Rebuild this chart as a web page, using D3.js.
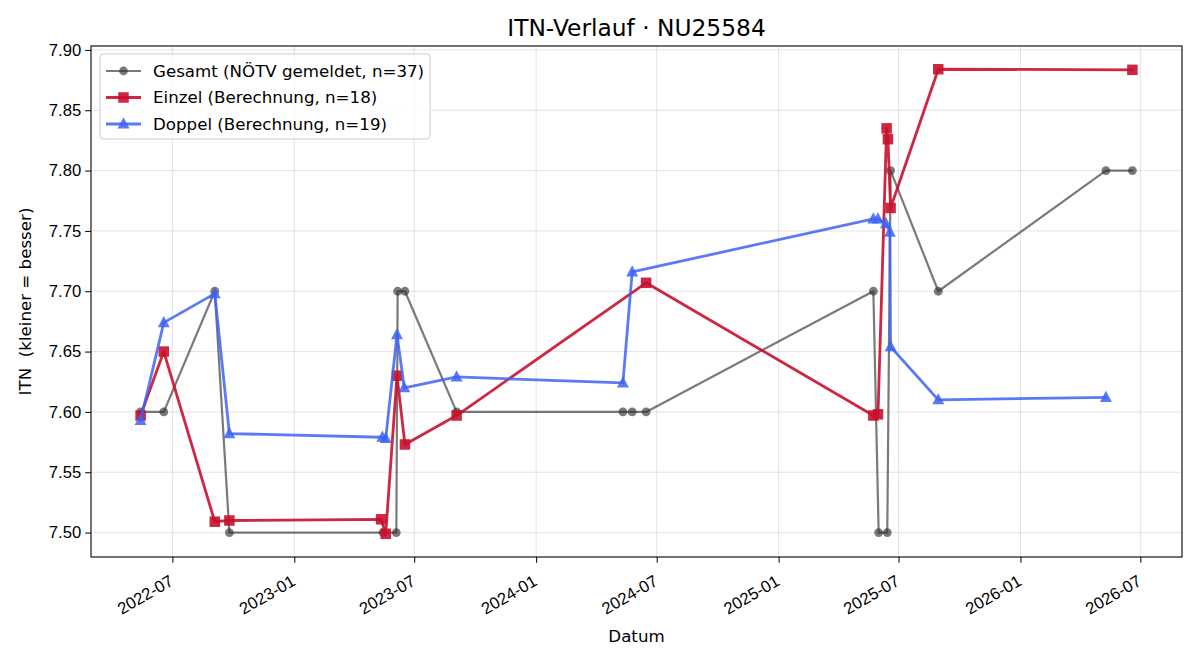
<!DOCTYPE html>
<html>
<head>
<meta charset="utf-8">
<script src="https://cdn.jsdelivr.net/npm/d3@7/dist/d3.min.js"></script>
<style>
  html, body { margin: 0; padding: 0; background: #fff; }
  svg { display: block; font-family: "DejaVu Sans", sans-serif; }
</style>
</head>
<body>
<svg id="chart" width="1200" height="660"></svg>
<script>
// ---- Data ----
const title = "ITN-Verlauf · NU25584";
const xLabel = "Datum";
const yLabel = "ITN  (kleiner = besser)";

const gesamtLabel = "Gesamt (NÖTV gemeldet, n=37)";
const gesamtDates = ["2022-05-14","2022-06-18","2022-09-03","2022-09-25","2023-05-15","2023-06-04","2023-06-06","2023-06-17","2023-09-03","2024-05-11","2024-05-25","2024-06-15","2025-05-24","2025-06-01","2025-06-14","2025-06-19","2025-08-30","2026-05-10","2026-06-19"];
const gesamtValues = [7.6,7.6,7.7,7.5,7.5,7.5,7.7,7.7,7.6,7.6,7.6,7.6,7.7,7.5,7.5,7.8,7.7,7.8,7.8];

const einzelLabel = "Einzel (Berechnung, n=18)";
const einzelDates = ["2022-05-14","2022-06-18","2022-09-03","2022-09-25","2023-05-12","2023-05-19","2023-06-05","2023-06-17","2023-09-03","2024-06-15","2025-05-24","2025-05-31","2025-06-13","2025-06-15","2025-06-19","2025-08-30","2026-06-19"];
const einzelValues = [7.597,7.650,7.509,7.510,7.511,7.499,7.630,7.573,7.597,7.707,7.597,7.598,7.835,7.826,7.769,7.884,7.8835];

const doppelLabel = "Doppel (Berechnung, n=19)";
const doppelDates = ["2022-05-14","2022-06-18","2022-09-03","2022-09-25","2023-05-14","2023-05-19","2023-06-05","2023-06-16","2023-09-03","2024-05-11","2024-05-25","2025-05-24","2025-05-31","2025-06-12","2025-06-18","2025-06-19","2025-08-30","2026-05-10"];
const doppelValues = [7.593,7.674,7.698,7.582,7.579,7.578,7.664,7.620,7.629,7.624,7.716,7.760,7.760,7.756,7.749,7.654,7.610,7.612];

const xTickLabels = ["2022-07","2023-01","2023-07","2024-01","2024-07","2025-01","2025-07","2026-01","2026-07"];
const yTickLabels = ["7.50","7.55","7.60","7.65","7.70","7.75","7.80","7.85","7.90"];

// ---- Build ----
const parse = d3.utcParse("%Y-%m-%d");
const parseMonth = d3.utcParse("%Y-%m");
function zip(dates, vals) { return dates.map((d, i) => ({ date: parse(d), value: vals[i] })); }

const FS = 16.67;      // 10pt @ 120dpi
const TFS = 23.33;     // 14pt @ 120dpi

const series = [
  { label: gesamtLabel, data: zip(gesamtDates, gesamtValues), color: "#333333", opacity: 0.65, width: 2.2, marker: "circle", size: 4.4 },
  { label: einzelLabel, data: zip(einzelDates, einzelValues), color: "#c8102e", opacity: 0.9, width: 2.8, marker: "square", size: 10.5 },
  { label: doppelLabel, data: zip(doppelDates, doppelValues), color: "#3d63f5", opacity: 0.85, width: 2.8, marker: "triangle", size: 12 }
];

const L = 91, R = 1182, T = 46, B = 557;
const svg = d3.select("#chart");

const all = series.flatMap(s => s.data);
const xExt = d3.extent(all, d => d.date);
const xPad = (xExt[1] - xExt[0]) * 0.05;
const x = d3.scaleUtc().domain([new Date(+xExt[0] - xPad), new Date(+xExt[1] + xPad)]).range([L, R]);
const yExt = d3.extent(all, d => d.value);
const yPad = (yExt[1] - yExt[0]) * 0.05;
const y = d3.scaleLinear().domain([yExt[0] - yPad, yExt[1] + yPad]).range([B, T]);

const xTicks = xTickLabels.map(s => parseMonth(s));
const yTicks = yTickLabels.map(s => +s);

// grid
const grid = svg.append("g");
grid.selectAll("line.gx").data(xTicks).enter().append("line")
  .attr("x1", d => x(d)).attr("x2", d => x(d)).attr("y1", T).attr("y2", B)
  .attr("stroke", "#b0b0b0").attr("stroke-opacity", 0.35).attr("stroke-width", 1);
grid.selectAll("line.gy").data(yTicks).enter().append("line")
  .attr("x1", L).attr("x2", R).attr("y1", d => y(d)).attr("y2", d => y(d))
  .attr("stroke", "#b0b0b0").attr("stroke-opacity", 0.35).attr("stroke-width", 1);

// axes
const xAxis = d3.axisBottom(x).tickValues(xTicks).tickSize(5.8).tickPadding(0).tickFormat(d3.utcFormat("%Y-%m"));
const gx = svg.append("g").attr("transform", `translate(0,${B})`).call(xAxis);
gx.select(".domain").remove();
gx.selectAll(".tick line").attr("stroke", "#000").attr("stroke-width", 1);
gx.selectAll(".tick text")
  .attr("font-size", FS).attr("fill", "#000")
  .attr("text-anchor", "end")
  .attr("y", 0).attr("dy", "0.93em")
  .attr("transform", "translate(-6,14) rotate(-30)");

const yAxis = d3.axisLeft(y).tickValues(yTicks).tickSize(5.8).tickPadding(4).tickFormat(d3.format(".2f"));
const gy = svg.append("g").attr("transform", `translate(${L},0)`).call(yAxis);
gy.select(".domain").remove();
gy.selectAll(".tick line").attr("stroke", "#000").attr("stroke-width", 1);
gy.selectAll(".tick text").attr("font-size", FS).attr("fill", "#000");

// clip
svg.append("clipPath").attr("id", "clip").append("rect").attr("x", L).attr("y", T).attr("width", R - L).attr("height", B - T);

const line = d3.line().x(d => x(d.date)).y(d => y(d.value));
function markerPath(type, s) {
  if (type === "square") return d3.symbol(d3.symbolSquare, s * s)();
  if (type === "triangle") { const h = s * 0.9; return `M0,${-h * 0.62}L${s / 2},${h * 0.42}L${-s / 2},${h * 0.42}Z`; }
  return d3.symbol(d3.symbolCircle, Math.PI * s * s)();
}

const plot = svg.append("g").attr("clip-path", "url(#clip)");
series.forEach(s => {
  const g = plot.append("g");
  g.append("path").datum(s.data).attr("d", line)
    .attr("fill", "none").attr("stroke", s.color).attr("stroke-opacity", s.opacity)
    .attr("stroke-width", s.width).attr("stroke-linejoin", "round").attr("stroke-linecap", "square");
  g.selectAll("path.m").data(s.data).enter().append("path")
    .attr("class", "m")
    .attr("d", markerPath(s.marker, s.size))
    .attr("transform", d => `translate(${x(d.date)},${y(d.value)})`)
    .attr("fill", s.color).attr("fill-opacity", s.opacity);
});

// frame
svg.append("rect").attr("x", L).attr("y", T).attr("width", R - L).attr("height", B - T)
  .attr("fill", "none").attr("stroke", "#000").attr("stroke-width", 1.1);

// titles
svg.append("text").attr("x", (L + R) / 2).attr("y", 36).attr("text-anchor", "middle")
  .attr("font-size", TFS).attr("fill", "#000").text(title);
svg.append("text").attr("x", (L + R) / 2).attr("y", 642).attr("text-anchor", "middle")
  .attr("font-size", FS).attr("fill", "#000").text(xLabel);
svg.append("text").attr("transform", `translate(31,${(T + B) / 2}) rotate(-90)`).attr("text-anchor", "middle")
  .attr("font-size", FS).attr("fill", "#000").style("white-space", "pre").text(yLabel);

// legend
const lg = svg.append("g").attr("transform", "translate(100,54)");
lg.append("rect").attr("x", 0).attr("y", 0).attr("width", 330).attr("height", 85).attr("rx", 3)
  .attr("fill", "#fff").attr("fill-opacity", 0.8).attr("stroke", "#cccccc").attr("stroke-width", 1);
series.forEach((s, i) => {
  const yy = 17 + i * 26.5;
  lg.append("line").attr("x1", 6).attr("x2", 41).attr("y1", yy).attr("y2", yy)
    .attr("stroke", s.color).attr("stroke-opacity", s.opacity).attr("stroke-width", s.width);
  lg.append("path").attr("d", markerPath(s.marker, s.size)).attr("transform", `translate(23.5,${yy})`)
    .attr("fill", s.color).attr("fill-opacity", s.opacity);
  lg.append("text").attr("x", 53).attr("y", yy).attr("dy", "0.35em").attr("font-size", FS).attr("fill", "#000").text(s.label);
});
</script>
</body>
</html>
